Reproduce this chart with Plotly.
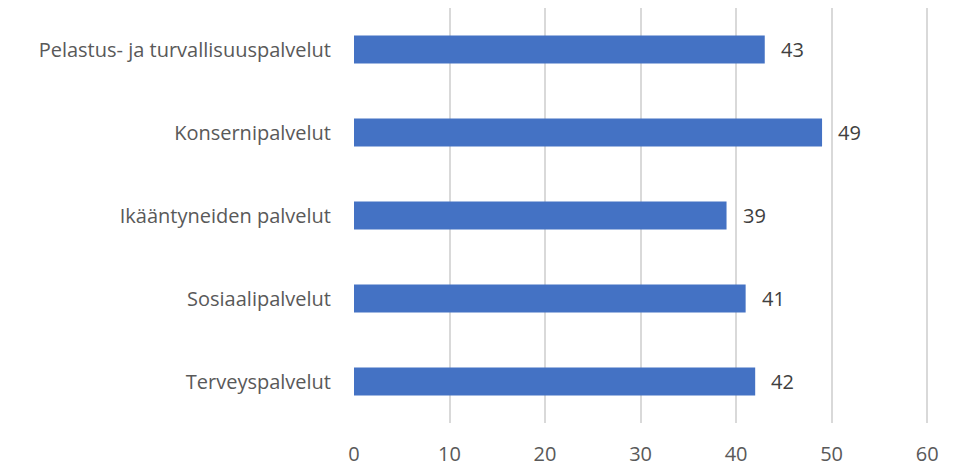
import plotly.graph_objects as go

categories = ["Pelastus- ja turvallisuuspalvelut", "Konsernipalvelut", "Ikääntyneiden palvelut",
              "Sosiaalipalvelut", "Terveyspalvelut"]
values = [43, 49, 39, 41, 42]
x_ticks = [0, 10, 20, 30, 40, 50, 60]

font = "Open Sans"
fig = go.Figure(go.Bar(
    x=values, y=categories, orientation="h",
    marker=dict(color="#4472C4", line=dict(width=0)),
    width=0.34,
))
for c, v in zip(categories, values):
    fig.add_annotation(x=v, y=c, text=str(v), showarrow=False, xanchor="left",
                       xshift=14, font=dict(family=font, size=20, color="#404040"))

fig.update_layout(
    width=956, height=459,
    margin=dict(l=346, r=34, t=0, b=39),
    paper_bgcolor="white", plot_bgcolor="white",
    showlegend=False,
    font=dict(family=font, size=20, color="#595959"),
)
fig.update_xaxes(range=[0, 60.3], tickvals=x_ticks, showgrid=True, gridcolor="#D9D9D9",
                 gridwidth=2, zeroline=False, showline=False,
                 ticks="outside", ticklen=13, tickcolor="rgba(0,0,0,0)",
                 tickfont=dict(family=font, size=20, color="#595959"))
fig.update_yaxes(categoryorder="array", categoryarray=categories[::-1], autorange=True,
                 showgrid=False, zeroline=False, showline=False,
                 ticks="outside", ticklen=18, tickcolor="rgba(0,0,0,0)",
                 tickfont=dict(family=font, size=20, color="#595959"))
fig.write_html("out.html")
